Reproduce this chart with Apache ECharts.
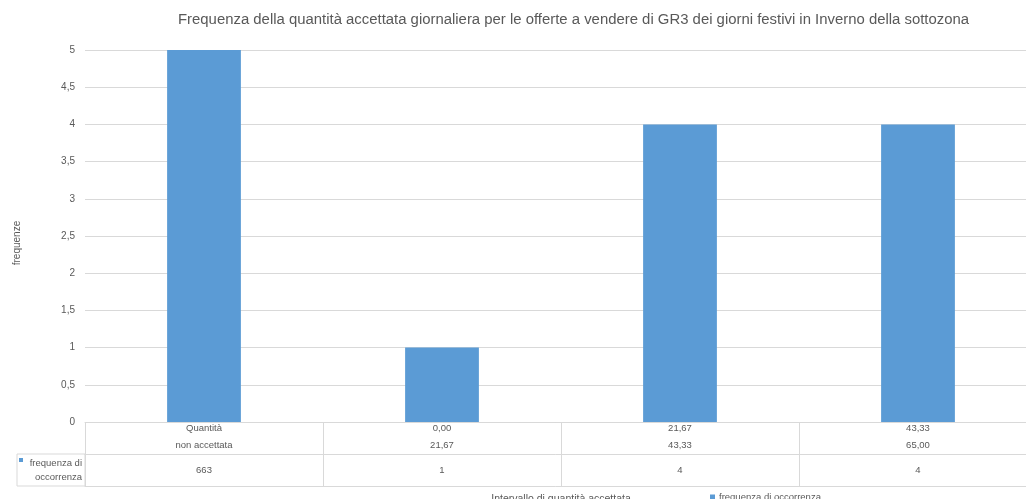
<!DOCTYPE html>
<html>
<head>
<meta charset="utf-8">
<script src="https://cdn.jsdelivr.net/npm/echarts@6/dist/echarts.min.js"></script>
<style>
  html, body { margin: 0; padding: 0; background: #fff; }
  #myChart { width: 1026px; height: 499px; }
</style>
</head>
<body>
<div id="myChart"></div>
<script>
// intervalli di quantità (riga intestazione della tabella dati)
var categories = ['Quantità\nnon accettata', '0,00\n21,67', '21,67\n43,33', '43,33\n65,00'];
// frequenza di occorrenza
var counts = [663, 1, 4, 4];
var yTicks = [0, 0.5, 1, 1.5, 2, 2.5, 3, 3.5, 4, 4.5, 5];

var gridColor = '#d9d9d9';
var textColor = '#595959';
var font = '"Liberation Sans", Arial, sans-serif';

var myChart = echarts.init(document.getElementById('myChart'));

myChart.setOption({
    textStyle: {fontFamily: font},
    animation: false,
    title: {
        text: 'Frequenza della quantità accettata giornaliera per le offerte a vendere di GR3 dei giorni festivi in Inverno della sottozona',
        left: 173,
        top: 7,
        textStyle: {fontSize: 14.9, fontWeight: 'normal', color: textColor, fontFamily: font}
    },
    legend: {
        data: ['frequenza di occorrenza'],
        left: 705,
        top: 487,
        icon: 'rect',
        itemWidth: 5,
        itemHeight: 5,
        itemGap: 4,
        textStyle: {fontSize: 9.5, color: textColor, fontFamily: font, padding: [0, 0, 0, -1]}
    },
    grid: {left: 85, right: -11, top: 50, bottom: 77, containLabel: false, outerBoundsMode: 'none'},
    xAxis: [{
        type: 'category',
        data: categories,
        axisLine: {lineStyle: {color: gridColor}},
        axisTick: {show: true, length: 64, lineStyle: {color: gridColor}},
        axisLabel: {color: textColor, fontSize: 9.5, lineHeight: 17, margin: -2, interval: 0}
    }, {
        type: 'category',
        data: categories,
        position: 'bottom',
        offset: 32,
        axisLine: {lineStyle: {color: gridColor}},
        axisTick: {show: false},
        axisLabel: {
            color: textColor, fontSize: 9.5, margin: 11, interval: 0,
            formatter: function (v, i) { return String(counts[i]); }
        }
    }, {
        type: 'category',
        data: categories,
        position: 'bottom',
        offset: 64,
        name: 'Intervallo di quantità accettata',
        nameLocation: 'middle',
        nameGap: 8,
        nameTextStyle: {fontSize: 10.5, color: textColor, fontFamily: font},
        axisLine: {lineStyle: {color: gridColor}},
        axisTick: {show: false},
        axisLabel: {show: false}
    }],
    yAxis: {
        type: 'value',
        min: yTicks[0],
        max: yTicks[yTicks.length - 1],
        interval: yTicks[1] - yTicks[0],
        name: 'frequenze',
        nameLocation: 'middle',
        nameGap: 63,
        nameTextStyle: {fontSize: 10, color: textColor, fontFamily: font, padding: [0, 14, 0, 0]},
        axisLine: {show: false},
        axisTick: {show: false},
        splitLine: {lineStyle: {color: gridColor}},
        axisLabel: {
            color: textColor, fontSize: 10, margin: 10,
            formatter: function (v) { return String(v).replace('.', ','); }
        }
    },
    series: [{
        name: 'frequenza di occorrenza',
        type: 'bar',
        data: counts,
        barWidth: '31%',
        clip: true,
        itemStyle: {color: '#5b9bd5'}
    }],
    graphic: [{
        type: 'rect',
        shape: {x: 17, y: 454, width: 68, height: 32},
        style: {fill: 'none', stroke: gridColor, lineWidth: 1}
    }, {
        type: 'rect',
        shape: {x: 19, y: 458, width: 4, height: 4},
        style: {fill: '#5b9bd5'}
    }, {
        type: 'text',
        x: 82,
        y: 456,
        style: {
            text: 'frequenza di\noccorrenza',
            align: 'right',
            fill: textColor,
            fontSize: 9.5,
            lineHeight: 14,
            fontFamily: font
        }
    }]
});
</script>
</body>
</html>
